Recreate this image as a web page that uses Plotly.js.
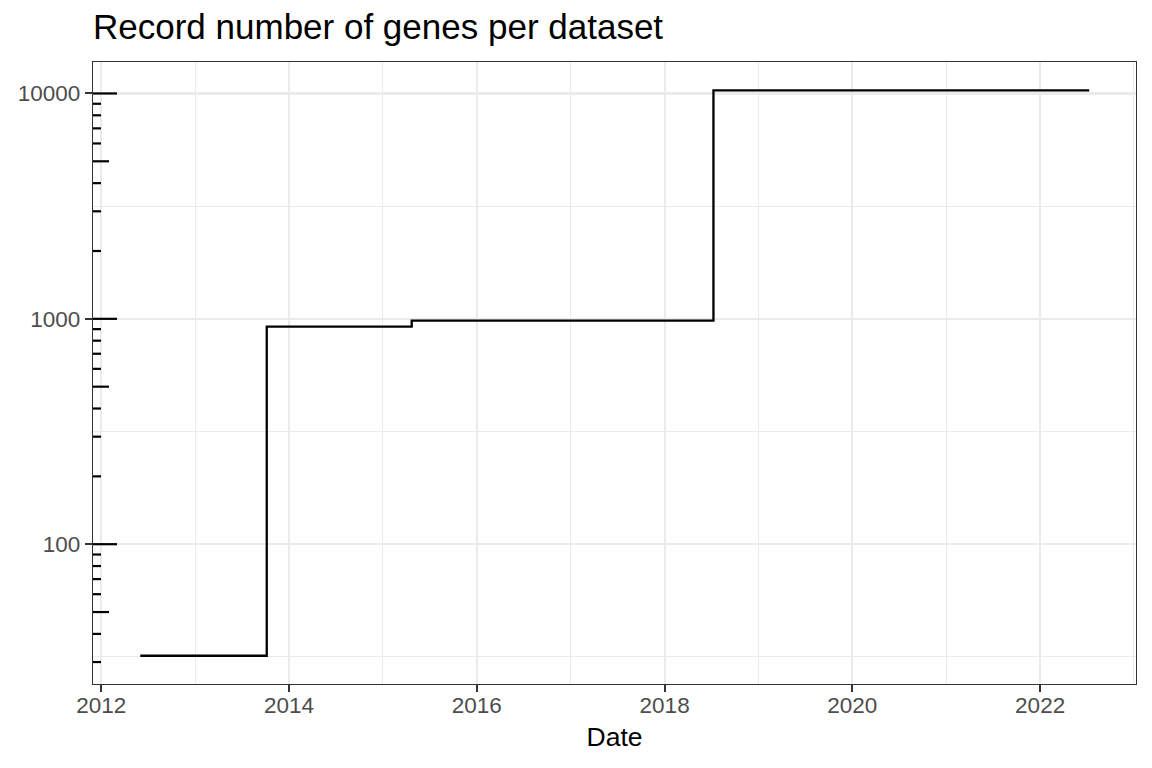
<!DOCTYPE html>
<html>
<head>
<meta charset="utf-8">
<script src="https://cdn.plot.ly/plotly-3.0.1.min.js"></script>
<style>
  html, body { margin: 0; padding: 0; background: #ffffff; }
  #chart { width: 1152px; height: 768px; }
</style>
</head>
<body>
<div id="chart"></div>
<script>
// ---- data ----
var recordDates = ['2012-06-01', '2013-10-06', '2015-04-23', '2018-07-10', '2022-07-11'];
var recordGenes = [32, 923, 981, 10330, 10330];

// axis breaks and labels
var yBreaks = [100, 1000, 10000];
var yLabels = ['100', '1000', '10000'];
var xBreakStart = '2012-01-01';

// annotation_logticks: decades and multipliers
var logDecades = [10, 100, 1000, 10000];
var logMultipliers = [1, 2, 3, 4, 5, 6, 7, 8, 9];

// ---- build logtick segments (paper-x on overlay axis, data-y) ----
var panelWidthPx = 1043;
var longLen = 24 / panelWidthPx, midLen = 16 / panelWidthPx, shortLen = 8 / panelWidthPx;
var tickX = [], tickY = [];
logDecades.forEach(function (d) {
  logMultipliers.forEach(function (m) {
    var v = d * m;
    var len = m === 1 ? longLen : (m === 5 ? midLen : shortLen);
    tickX.push(0, len, null);
    tickY.push(v, v, null);
  });
});

// minor grid breaks halfway (in log space) between major breaks
var yMinorBreaks = [Math.sqrt(10 * yBreaks[0])].concat(
  yBreaks.slice(0, -1).map(function (b, i) { return Math.sqrt(b * yBreaks[i + 1]); })
);

var traces = [
  {
    type: 'scatter',
    mode: 'lines',
    x: recordDates,
    y: recordGenes,
    line: { shape: 'hv', color: '#000000', width: 2.3 },
    hoverinfo: 'skip',
    showlegend: false
  },
  {
    type: 'scatter',
    mode: 'lines',
    x: tickX,
    y: tickY,
    xaxis: 'x2',
    yaxis: 'y',
    line: { color: '#000000', width: 2.2 },
    connectgaps: false,
    hoverinfo: 'skip',
    showlegend: false
  }
];

var tickFont = { family: 'Liberation Sans, Arial, sans-serif', size: 22.5, color: '#4D4D4D' };

var layout = {
  width: 1152,
  height: 768,
  paper_bgcolor: '#ffffff',
  plot_bgcolor: '#ffffff',
  margin: { l: 93, r: 16, t: 62, b: 84, pad: 0 },
  showlegend: false,
  hovermode: false,
  title: {
    text: 'Record number of genes per dataset',
    font: { family: 'Liberation Sans, Arial, sans-serif', size: 35, color: '#000000' },
    x: 0, xref: 'paper', xanchor: 'left',
    y: 1 - 26.75 / 768, yref: 'container', yanchor: 'middle'
  },
  xaxis: {
    type: 'date',
    range: ['2011-11-30', '2023-01-09'],
    tick0: xBreakStart,
    dtick: 'M24',
    tickformat: '%Y',
    ticks: 'outside',
    ticklen: 7,
    tickwidth: 2,
    tickcolor: '#333333',
    tickfont: tickFont,
    ticklabelstandoff: -6,
    showgrid: true,
    gridcolor: '#EBEBEB',
    gridwidth: 2.2,
    minor: { dtick: 'M12', tick0: xBreakStart, showgrid: true, gridcolor: '#EBEBEB', gridwidth: 1.1, ticks: '' },
    showline: true,
    mirror: true,
    linecolor: '#333333',
    linewidth: 1.2,
    zeroline: false,
    title: { text: 'Date', font: { family: 'Liberation Sans, Arial, sans-serif', size: 26.5, color: '#000000' }, standoff: 10 }
  },
  xaxis2: {
    overlaying: 'x',
    range: [0, 1],
    visible: false,
    fixedrange: true
  },
  yaxis: {
    type: 'log',
    range: [1.3797, 4.1396],
    tickmode: 'array',
    tickvals: yBreaks,
    ticktext: yLabels,
    ticks: 'outside',
    ticklen: 7,
    tickwidth: 2,
    tickcolor: '#333333',
    tickfont: tickFont,
    showgrid: true,
    gridcolor: '#EBEBEB',
    gridwidth: 2.2,
    minor: { tickmode: 'array', tickvals: yMinorBreaks, showgrid: true, gridcolor: '#EBEBEB', gridwidth: 1.1, ticks: '' },
    showline: true,
    mirror: true,
    linecolor: '#333333',
    linewidth: 1.2,
    zeroline: false
  }
};

Plotly.newPlot('chart', traces, layout, { displayModeBar: false, staticPlot: true });
</script>
</body>
</html>
